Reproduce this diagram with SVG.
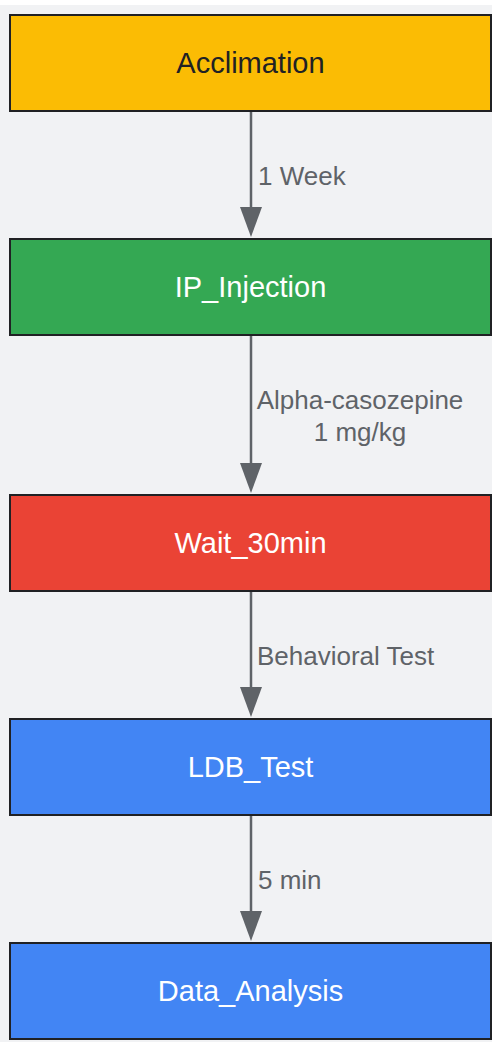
<svg xmlns="http://www.w3.org/2000/svg" width="492" height="1042" viewBox="0 0 492 1042">
<style>
.node rect{stroke:#202124;stroke-width:2}
.nt{font-family:"Liberation Sans",Arial,sans-serif;font-size:29px;text-anchor:middle}
.el{font-family:"Liberation Sans",Arial,sans-serif;font-size:26px;fill:#5f6368}
.edge{stroke:#5f6368;stroke-width:2.5;fill:none;marker-end:url(#arr)}
</style>
<defs>
<marker id="arr" viewBox="0 0 30 22" refX="20" refY="11" markerWidth="30" markerHeight="22" markerUnits="userSpaceOnUse" orient="auto">
<path d="M0,0 L30,11 L0,22 Z" fill="#5f6368"/>
</marker>
</defs>
<rect x="0" y="0" width="492" height="1042" fill="#ffffff"/>
<rect x="0" y="5" width="492" height="1037" fill="#f1f2f4"/>
<g id="connectors">
<line class="edge" x1="251" y1="112" x2="251" y2="227"/>
<text class="el" x="258" y="185">1 Week</text>
<line class="edge" x1="251" y1="336" x2="251" y2="483"/>
<text class="el" x="360" y="409" text-anchor="middle">Alpha-casozepine</text>
<text class="el" x="360" y="441" text-anchor="middle">1 mg/kg</text>
<line class="edge" x1="251" y1="592" x2="251" y2="707"/>
<text class="el" x="257" y="665">Behavioral Test</text>
<line class="edge" x1="251" y1="816" x2="251" y2="931"/>
<text class="el" x="258" y="889">5 min</text>
</g>
<g id="Acclimation" class="node">
<rect x="10" y="15" width="481" height="96" fill="#fbbc04"/>
<text class="nt" x="250.5" y="73" fill="#202124">Acclimation</text>
</g>
<g id="IP_Injection" class="node">
<rect x="10" y="239" width="481" height="96" fill="#34a853"/>
<text class="nt" x="250.5" y="297" fill="#ffffff">IP_Injection</text>
</g>
<g id="Wait_30min" class="node">
<rect x="10" y="495" width="481" height="96" fill="#ea4335"/>
<text class="nt" x="250.5" y="553" fill="#ffffff">Wait_30min</text>
</g>
<g id="LDB_Test" class="node">
<rect x="10" y="719" width="481" height="96" fill="#4285f4"/>
<text class="nt" x="250.5" y="777" fill="#ffffff">LDB_Test</text>
</g>
<g id="Data_Analysis" class="node">
<rect x="10" y="943" width="481" height="96" fill="#4285f4"/>
<text class="nt" x="250.5" y="1001" fill="#ffffff">Data_Analysis</text>
</g>
</svg>
